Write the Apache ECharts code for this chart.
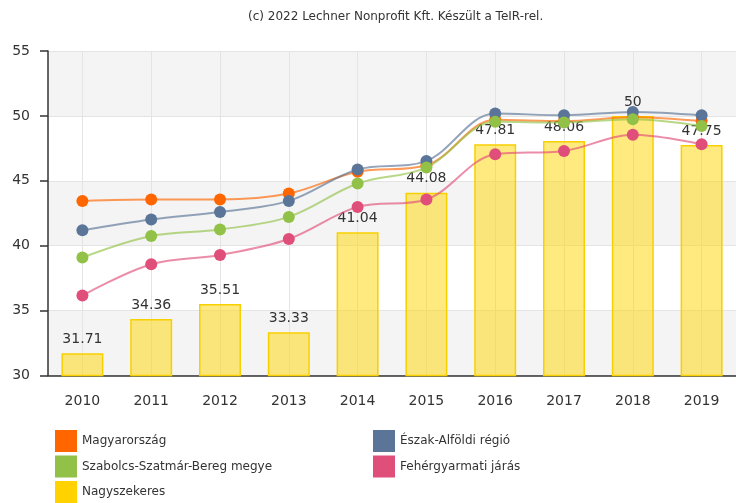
<!DOCTYPE html>
<html>
<head>
<meta charset="utf-8">
<script src="https://cdn.jsdelivr.net/npm/echarts@6/dist/echarts.min.js"></script>
<style>
html,body{margin:0;padding:0;background:#fff;}
#chart{width:736px;height:503px;}
</style>
</head>
<body>
<div id="chart"></div>
<script>
var categories = ['2010','2011','2012','2013','2014','2015','2016','2017','2018','2019'];
var magyarorszag = [43.45, 43.56, 43.56, 44.02, 45.69, 46.2, 49.7, 49.6, 49.9, 49.6];
var eszakAlfold = [41.19, 42.02, 42.6, 43.45, 45.87, 46.53, 50.18, 50.05, 50.31, 50.05];
var szabolcs = [39.09, 40.75, 41.25, 42.22, 44.79, 46.02, 49.54, 49.49, 49.75, 49.23];
var fehergyarmat = [36.16, 38.57, 39.29, 40.52, 42.99, 43.56, 47.05, 47.3, 48.54, 47.82];
var nagyszekeres = [31.71, 34.36, 35.51, 33.33, 41.04, 44.08, 47.81, 48.06, 50, 47.75];
var yTicks = {min: 30, max: 55, interval: 5};

var names = {
  hu: 'Magyarország',
  ea: 'Észak-Alföldi régió',
  sz: 'Szabolcs-Szatmár-Bereg megye',
  fe: 'Fehérgyarmati járás',
  na: 'Nagyszekeres'
};
var FONT = 'DejaVu Sans';

function lineSeries(name, data, color) {
  return {
    name: name, type: 'line', data: data, smooth: 0.35,
    symbol: 'circle', symbolSize: 12, z: 3,
    itemStyle: {color: color},
    lineStyle: {color: color, width: 2, opacity: 0.65},
    emphasis: {disabled: true}
  };
}

function legendBlock(left, top, data) {
  return {
    orient: 'vertical', left: left, top: top, padding: 0,
    itemWidth: 22, itemHeight: 22, itemGap: 3.5, icon: 'rect',
    textStyle: {fontFamily: FONT, fontSize: 12, color: '#333'},
    data: data
  };
}

var chart = echarts.init(document.getElementById('chart'), null, {renderer: 'canvas'});
chart.setOption({
  animation: false,
  backgroundColor: '#fff',
  title: {
    text: '(c) 2022 Lechner Nonprofit Kft. Készült a TeIR-rel.',
    left: 243, top: 6,
    textStyle: {fontFamily: FONT, fontSize: 12, fontWeight: 'normal', color: '#333'}
  },
  grid: {left: 48, right: -8, top: 51, bottom: 127.5, containLabel: false},
  xAxis: {
    type: 'category', data: categories, boundaryGap: true,
    axisLine: {lineStyle: {color: '#333', width: 1.5}},
    axisTick: {alignWithLabel: true, length: 7, lineStyle: {color: '#333', width: 1.5}},
    axisLabel: {fontFamily: FONT, fontSize: 14, color: '#333', margin: 19},
    splitLine: {show: true, alignWithLabel: true, lineStyle: {color: '#e4e4e4', width: 1}}
  },
  yAxis: {
    type: 'value', min: yTicks.min, max: yTicks.max, interval: yTicks.interval,
    axisLine: {show: true, lineStyle: {color: '#333', width: 1.5}},
    axisTick: {show: true, length: 8, lineStyle: {color: '#333', width: 1.5}},
    axisLabel: {fontFamily: FONT, fontSize: 14, color: '#333', margin: 18},
    splitLine: {show: true, lineStyle: {color: '#e4e4e4', width: 1}},
    splitArea: {show: true, areaStyle: {color: ['#f4f4f4', '#ffffff']}}
  },
  legend: [
    legendBlock(55, 430, [names.hu, names.sz]),
    legendBlock(55, 481, [{name: names.na, itemStyle: {color: '#ffd200', borderWidth: 0, opacity: 1}}]),
    legendBlock(373, 430, [names.ea, names.fe])
  ],
  series: [
    {
      name: names.na, type: 'bar', data: nagyszekeres, barWidth: '61%', z: 1,
      itemStyle: {color: 'rgba(255,214,0,0.5)', borderColor: '#f7d000', borderWidth: 1.5},
      label: {show: true, position: 'top', distance: 7, fontFamily: FONT, fontSize: 14, color: '#333'},
      emphasis: {disabled: true}
    },
    lineSeries(names.hu, magyarorszag, '#ff6600'),
    lineSeries(names.ea, eszakAlfold, '#5a7597'),
    lineSeries(names.sz, szabolcs, '#92c147'),
    lineSeries(names.fe, fehergyarmat, '#e04e7a')
  ]
});
</script>
</body>
</html>
